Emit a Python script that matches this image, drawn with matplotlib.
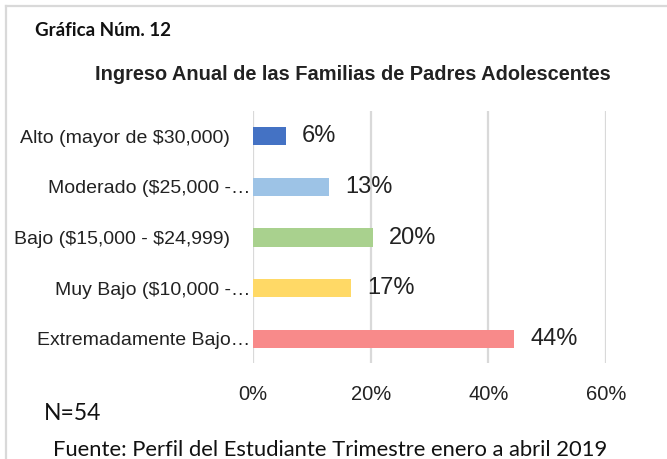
import matplotlib
matplotlib.use('Agg')
import matplotlib.pyplot as plt
from matplotlib.lines import Line2D
from matplotlib.transforms import ScaledTranslation

plt.rcParams['text.parse_math'] = False

# data (top to bottom as in the chart)
categorias = ['Alto (mayor de $30,000)', 'Moderado ($25,000 -…',
              'Bajo ($15,000 - $24,999)', 'Muy Bajo ($10,000 -…',
              'Extremadamente Bajo…']
porcentajes = [5.6, 13.0, 20.4, 16.7, 44.4]
etiquetas = ['6%', '13%', '20%', '17%', '44%']
colores = ['#4472C4', '#9DC3E6', '#A9D18E', '#FFD966', '#F88A8A']
xticks = [0, 20, 40, 60]
xtick_labels = ['0%', '20%', '40%', '60%']

sans = ['Liberation Sans', 'DejaVu Sans']
calib = ['Lato', 'DejaVu Sans']

fig = plt.figure(figsize=(6.67, 4.59), dpi=100)
ax = fig.add_axes([253/667, 1-363/459, (606-253)/667, (363-111)/459])

# bottom-up for barh
cats = categorias[::-1]
vals = porcentajes[::-1]
labs = etiquetas[::-1]
cols = colores[::-1]
ypos = list(range(len(cats)))

ax.barh(ypos, vals, height=0.36, color=cols, zorder=3)
for y, v, t in zip(ypos, vals, labs):
    ax.annotate(t, (v, y), xytext=(11.5, 0), textcoords='offset points',
                va='center', ha='left', fontsize=17, family=sans, color='#222222')

ax.set_xlim(0, 60)
ax.set_ylim(-0.48, 4.5)
ax.set_yticks(ypos)
ax.set_yticklabels(cats, family=sans, fontsize=14, color='#222222')
ax.set_xticks(xticks)
ax.set_xticklabels(xtick_labels, family=sans, fontsize=14.5, color='#222222')
ax.tick_params(axis='y', length=0, pad=2)
ax.tick_params(axis='x', length=0, pad=16)
ax.grid(axis='x', color='#d9d9d9', linewidth=1.6, zorder=0)
for s in ax.spines.values():
    s.set_visible(False)

# las etiquetas completas (sin "…") quedan algo a la izquierda
for lbl in ax.get_yticklabels():
    if not lbl.get_text().endswith('…'):
        lbl.set_transform(lbl.get_transform() + ScaledTranslation(-0.2, 0, fig.dpi_scale_trans))

fig.text(353/667, 1-75/459, 'Ingreso Anual de las Familias de Padres Adolescentes',
         ha='center', va='center', fontsize=14.4, fontweight='bold', family=sans,
         color='#222222')
fig.text(35/667, 1-30/459, 'Gráfica Núm. 12', ha='left', va='center',
         fontsize=13.5, fontweight='bold', family=calib, color='#111111')
fig.text(44/667, 1-413/459, 'N=54', ha='left', va='center', fontsize=16.5,
         family=calib, color='#111111')
fig.text(330/667, 1-450/459, 'Fuente: Perfil del Estudiante Trimestre enero a abril 2019',
         ha='center', va='center', fontsize=15.8, family=calib, color='#111111')

# marco gris de la imagen
fig.add_artist(Line2D([6/667, 1], [1-6/459, 1-6/459], transform=fig.transFigure,
                      color='#d9d9d9', linewidth=1.6))
fig.add_artist(Line2D([6/667, 6/667], [0, 1-6/459], transform=fig.transFigure,
                      color='#d9d9d9', linewidth=1.6))

fig.savefig('out.png', dpi=100)
